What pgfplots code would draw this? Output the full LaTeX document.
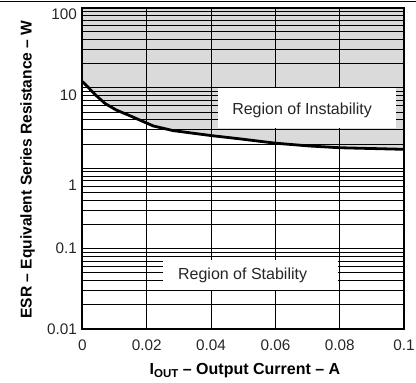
\documentclass[border=0pt]{standalone}
\usepackage{fontspec}
\setmainfont{Liberation Sans}
\usepackage{pgfplots}
\pgfplotsset{compat=1.18}
\begin{document}
\fontsize{16}{19}\selectfont
\begin{tikzpicture}
\useasboundingbox (0pt,0pt) rectangle (416pt,383pt);
\draw[line width=1.3pt] (0pt,381.3pt) -- (416pt,381.3pt);
\begin{axis}[
  at={(82.5pt,54pt)}, anchor=south west,
  scale only axis, width=321.5pt, height=321.5pt,
  ymode=log, xmin=0, xmax=0.1, ymin=0.01, ymax=100,
  xtick={0,0.02,0.04,0.06,0.08,0.1},
  xticklabels={0,0.02,0.04,0.06,0.08,0.1},
  ytick={0.01,0.1,1,10,100},
  yticklabels={0.01,0.1,\raisebox{-22pt}[0pt][0pt]{1},\raisebox{-12.5pt}[0pt][0pt]{10},\raisebox{-12pt}[0pt][0pt]{100}},
  minor ytick={0.02,0.03,0.04,0.05,0.06,0.07,0.08,0.09,0.2,0.3,0.4,0.5,0.6,0.7,0.8,0.9,2,3,4,5,6,7,8,9,20,30,40,50,60,70,80,90},
  xmajorgrids, ymajorgrids, yminorgrids,
  major grid style={black, line width=0.9pt},
  minor grid style={black, line width=0.9pt},
  major tick length=0pt, minor tick length=0pt,
  axis line style={line width=2pt},
  tick label style={font=\fontsize{15.3}{18}\selectfont, text=black!85},
  xticklabel style={yshift=-5pt},
  /pgf/number format/assume math mode=true,
]
\addplot[fill=black, fill opacity=0.145, draw=none] coordinates {
(0,12.0) (0.004,8.2) (0.007,6.4) (0.0105,5.3) (0.0142,4.6) (0.018,3.95) (0.022,3.36) (0.0282,2.94) (0.04,2.55) (0.049,2.32) (0.06,2.05) (0.0708,1.89) (0.08,1.80) (0.1,1.72) (0.1,100) (0,100)
} -- cycle;
\addplot[black, line width=2.8pt, line join=round] coordinates {
(0,12.0) (0.004,8.2) (0.007,6.4) (0.0105,5.3) (0.0142,4.6) (0.018,3.95) (0.022,3.36) (0.0282,2.94) (0.04,2.55) (0.049,2.32) (0.06,2.05) (0.0708,1.89) (0.08,1.80) (0.1,1.72)
};
\fill[white] (axis cs:0.0422,3.14) rectangle (axis cs:0.0975,9.88);
\node[font=\fontsize{16}{19}\selectfont, text=black!85] at (axis cs:0.0683,5.31) {Region of Instability};
\fill[white] (axis cs:0.025,0.0306) rectangle (axis cs:0.0795,0.0722);
\node[font=\fontsize{16}{19}\selectfont, text=black!85] at (axis cs:0.0498,0.047) {Region of Stability};
\end{axis}
\node[anchor=base, font=\fontsize{16}{19}\selectfont\bfseries] at (245pt,8pt) {I\raisebox{-0.35ex}{\fontsize{11.5}{13}\selectfont OUT} -- Output Current -- A};
\node[anchor=base, rotate=90, font=\fontsize{15.6}{19}\selectfont\bfseries] at (31.5pt,213.5pt) {ESR -- Equivalent Series Resistance -- W};
\end{tikzpicture}
\end{document}
